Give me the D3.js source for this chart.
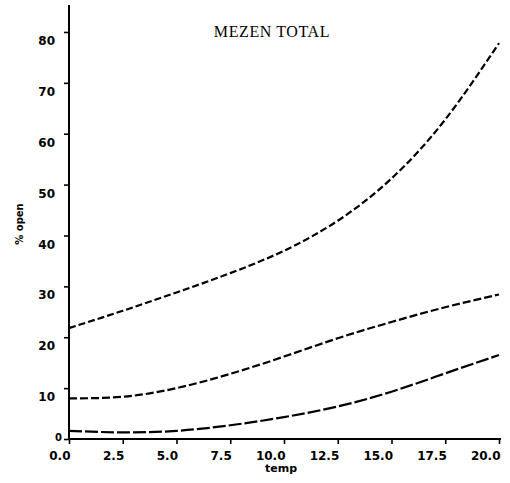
<!DOCTYPE html>
<html>
<head>
<meta charset="utf-8">
<script src="https://cdn.jsdelivr.net/npm/d3@7"></script>
<style>
  body { margin: 0; background: #fff; }
  .tick text { font-family: "DejaVu Sans", sans-serif; font-weight: bold; font-size: 11px; }
</style>
</head>
<body>
<div id="main"></div>
<script>
// values
var temps = [0, 2.5, 5, 7.5, 10, 12.5, 15, 17.5, 20];
var upperCurve = [21.8, 25.2, 28.8, 32.6, 37.0, 42.9, 51.2, 62.8, 77.8];
var middleCurve = [8.0, 8.3, 10.0, 12.8, 16.2, 19.8, 23.0, 25.9, 28.4];
var lowerCurve = [1.6, 1.3, 1.6, 2.7, 4.3, 6.4, 9.3, 12.9, 16.5];
var xTicks = [0, 2.5, 5, 7.5, 10, 12.5, 15, 17.5, 20];
var yTicks = [0, 10, 20, 30, 40, 50, 60, 70, 80];

const width = 510;
const height = 483;

const svg = d3.select("#main")
    .append("svg")
    .attr("width", width)
    .attr("height", height);

const xScale = d3.scaleLinear()
    .domain([0, 20])
    .range([69, 499]);

const yScale = d3.scaleLinear()
    .domain([0, 85.3])
    .range([439, 5]);

// axes
const xAxis = d3.axisBottom(xScale)
    .tickValues(xTicks)
    .tickSize(5)
    .tickPadding(7)
    .tickFormat(d3.format(".1f"));

svg.append("g")
    .attr("id", "x-axis")
    .attr("transform", "translate(0,439)")
    .call(xAxis)
    .call(g => g.select(".domain").attr("d", "M69,0H501").attr("stroke-width", 2));

// the scan puts the x labels to the left of their ticks
svg.select("#x-axis").selectAll(".tick text")
    .attr("text-anchor", "end")
    .attr("x", 1)
    .style("font-size", "12px");

const yAxis = d3.axisLeft(yScale)
    .tickValues(yTicks)
    .tickSize(5)
    .tickPadding(9)
    .tickFormat(d3.format("d"));

svg.append("g")
    .attr("id", "y-axis")
    .attr("transform", "translate(69,0)")
    .call(yAxis)
    .call(g => g.select(".domain").attr("d", "M0,5V439").attr("stroke-width", 2));

svg.selectAll(".tick line").attr("stroke-width", 1.6);
// y labels sit a little below their ticks
svg.select("#y-axis").selectAll(".tick text")
    .attr("dy", "1.05em")
    .style("font-size", "12px");
svg.select("#y-axis").selectAll(".tick text").filter(d => d == 0)
    .attr("dy", "0.1em").attr("x", -7).style("font-size", "10px");

// curves
const line = d3.line()
    .x((d, i) => xScale(temps[i]))
    .y(d => yScale(d))
    .curve(d3.curveNatural);

const series = [
    { values: upperCurve, dash: "7,3" },
    { values: middleCurve, dash: "8,3" },
    { values: lowerCurve, dash: "13,3" }
];

svg.selectAll("path.curve")
    .data(series)
    .enter()
    .append("path")
    .attr("class", "curve")
    .attr("d", d => line(d.values))
    .attr("fill", "none")
    .attr("stroke", "#000")
    .attr("stroke-width", 2.2)
    .attr("stroke-dasharray", d => d.dash);

// titles
svg.append("text")
    .attr("x", 272)
    .attr("y", 37)
    .attr("text-anchor", "middle")
    .style("font-family", "'Liberation Serif', serif")
    .style("font-size", "16px")
    .style("letter-spacing", "0.6px")
    .text("MEZEN TOTAL");

svg.append("text")
    .attr("x", 281)
    .attr("y", 472)
    .attr("text-anchor", "middle")
    .style("font-family", "'DejaVu Sans', sans-serif")
    .style("font-weight", "bold")
    .style("font-size", "11px")
    .text("temp");

svg.append("text")
    .attr("transform", "translate(23,224) rotate(-90)")
    .attr("text-anchor", "middle")
    .style("font-family", "'DejaVu Sans', sans-serif")
    .style("font-weight", "bold")
    .style("font-size", "10px")
    .text("% open");
</script>
</body>
</html>
